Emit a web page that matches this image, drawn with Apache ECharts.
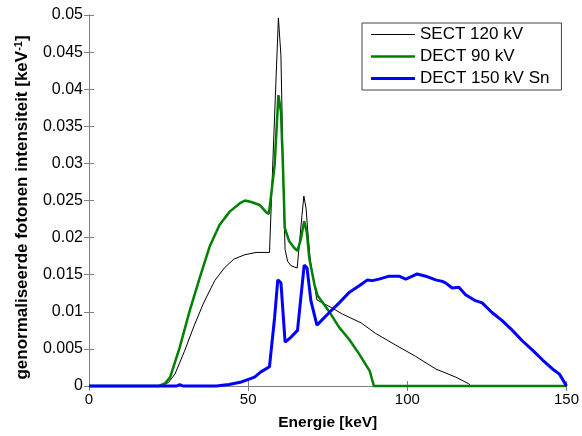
<!DOCTYPE html>
<html>
<head>
<meta charset="utf-8">
<script src="https://cdn.jsdelivr.net/npm/echarts@6/dist/echarts.min.js"></script>
<style>
  html, body { margin: 0; padding: 0; background: #fff; }
  #chart { width: 582px; height: 436px; }
</style>
</head>
<body>
<div id="chart"></div>
<script>
// Normalised photon spectra [keV^-1] versus photon energy [keV]

const seriesNames = ['SECT 120 kV', 'DECT 90 kV', 'DECT 150 kV Sn'];

const sectEnergy = [0, 23, 25, 27, 30, 33, 36, 39.5, 42.5, 45.5, 49, 52.5, 55, 56.7, 58, 59.5, 60.3, 61.2, 61.6, 62.4, 63.5, 65.4, 66.9, 67.5, 68.2, 68.7, 69.5, 71.6, 76, 79.6, 85.5, 90, 96.4, 102.6, 108.9, 115.2, 119.3, 120, 150];
const sectValue  = [0, 0, 0.0005, 0.0016, 0.0047, 0.0081, 0.0112, 0.0142, 0.0159, 0.0171, 0.0177, 0.0180, 0.0180, 0.0180, 0.0330, 0.0496, 0.0445, 0.0240, 0.0184, 0.0168, 0.0162, 0.0159, 0.0230, 0.0256, 0.0239, 0.0210, 0.0170, 0.0116, 0.0106, 0.0097, 0.0085, 0.0071, 0.0055, 0.0040, 0.0023, 0.0012, 0.0003, 0, 0];

const dect90Energy = [0, 22, 24, 25.5, 28.5, 31.6, 34.8, 37.9, 41, 44.2, 47.3, 49, 51, 53.6, 55.7, 56.5, 57.2, 58.3, 59.5, 60.3, 60.9, 61.5, 62.9, 64.5, 65.5, 66.6, 67.6, 68.4, 69.2, 70.8, 71.8, 75.5, 78.6, 81.7, 84.9, 88.2, 89.5, 150];
const dect90Value  = [0, 0, 0.0004, 0.0012, 0.0052, 0.0101, 0.0146, 0.0188, 0.0217, 0.0235, 0.0246, 0.0250, 0.0248, 0.0244, 0.0234, 0.0232, 0.0257, 0.0297, 0.0392, 0.0370, 0.0300, 0.0213, 0.0195, 0.0186, 0.0182, 0.0199, 0.0222, 0.0208, 0.0172, 0.0137, 0.0122, 0.0100, 0.0079, 0.0063, 0.0043, 0.0020, 0, 0];

const dect150Energy = [0, 27.5, 28.5, 29.5, 40, 44, 47.5, 52, 54, 56.7, 58.3, 59.3, 60.3, 61.6, 63.5, 65.5, 67.6, 68.5, 69.7, 71.6, 75.5, 78.6, 81.7, 84.9, 87.5, 89, 91.1, 94.3, 97.4, 99.5, 101.6, 103.1, 105.8, 108.9, 111, 112, 114.1, 116.2, 118.3, 121.4, 123.5, 126.6, 129.8, 133, 136.1, 139.4, 142.5, 145.6, 147.8, 150];
const dect150Value  = [0, 0, 0.0002, 0, 0, 0.0002, 0.0005, 0.0012, 0.0019, 0.0026, 0.0092, 0.0143, 0.0139, 0.0059, 0.0066, 0.0075, 0.0163, 0.0159, 0.0115, 0.0082, 0.0099, 0.0112, 0.0126, 0.0135, 0.0143, 0.0142, 0.0144, 0.0148, 0.0148, 0.0144, 0.0148, 0.0151, 0.0148, 0.0143, 0.0141, 0.0139, 0.0132, 0.0133, 0.0123, 0.0115, 0.0112, 0.0099, 0.0088, 0.0075, 0.0061, 0.0048, 0.0035, 0.0023, 0.0016, 0];

const xTicks = [0, 50, 100, 150];
const yTicks = [0, 0.005, 0.01, 0.015, 0.02, 0.025, 0.03, 0.035, 0.04, 0.045, 0.05];

const seriesColors = ['#000000', '#008000', '#0000ff'];
const seriesWidths = [1, 2.5, 3];

const pairs = (xs, ys) => xs.map((x, i) => [x, ys[i]]);

const FONT = 'Liberation Sans, Arial, sans-serif';
const AXIS_COLOR = '#808080';

const boxAxis = {
  axisLine: { show: true, lineStyle: { color: AXIS_COLOR, width: 1 } },
  axisTick: { show: true, inside: true, length: 5, lineStyle: { color: AXIS_COLOR } },
  splitLine: { show: false }
};

// plain line swatch for each legend entry, as thick as its series
const legendIcon = w => 'path://M0 0H44V' + w + 'H0Z';

const chart = echarts.init(document.getElementById('chart'), null, { renderer: 'canvas' });

chart.setOption({
  backgroundColor: '#ffffff',
  animation: false,
  grid: { left: 89, right: 14, top: 15, bottom: 47, containLabel: false },
  legend: {
    orient: 'vertical',
    left: 362,
    top: 23,
    padding: [3, 12, 3, 9],
    itemWidth: 44,
    itemHeight: 17,
    itemGap: 5,
    symbolKeepAspect: true,
    backgroundColor: '#ffffff',
    borderColor: '#444444',
    borderWidth: 1,
    borderRadius: 0,
    textStyle: { fontFamily: FONT, fontSize: 17, color: '#000' },
    data: seriesNames.map((n, i) => ({ name: n, icon: legendIcon(seriesWidths[i]) }))
  },
  xAxis: [
    Object.assign({
      type: 'value', position: 'bottom',
      min: xTicks[0], max: xTicks[xTicks.length - 1], interval: 50,
      name: 'Energie [keV]', nameLocation: 'middle', nameGap: 29,
      nameTextStyle: { fontFamily: FONT, fontWeight: 'bold', fontSize: 15.5, color: '#000' },
      axisLabel: { fontFamily: FONT, fontSize: 15, color: '#000', margin: 6 }
    }, boxAxis),
    Object.assign({
      type: 'value', position: 'top',
      min: xTicks[0], max: xTicks[xTicks.length - 1], interval: 50,
      axisLabel: { show: false }
    }, boxAxis)
  ],
  yAxis: [
    Object.assign({
      type: 'value', position: 'left',
      min: yTicks[0], max: yTicks[yTicks.length - 1], interval: 0.005,
      name: 'genormaliseerde fotonen intensiteit [keV{sup|-1}]',
      nameLocation: 'middle', nameGap: 55,
      nameTextStyle: {
        fontFamily: FONT, fontWeight: 'bold', fontSize: 17, color: '#000', lineHeight: 19,
        padding: [0, 14, 0, 0],
        rich: { sup: { fontFamily: FONT, fontWeight: 'bold', fontSize: 11, color: '#000', lineHeight: 11, verticalAlign: 'top' } }
      },
      axisLabel: {
        fontFamily: FONT, fontSize: 16, color: '#000', margin: 6,
        formatter: v => (v === 0 ? '0' : String(+v.toFixed(3)))
      }
    }, boxAxis),
    Object.assign({
      type: 'value', position: 'right',
      min: yTicks[0], max: yTicks[yTicks.length - 1], interval: 0.005,
      axisLabel: { show: false }
    }, boxAxis)
  ],
  series: [
    {
      name: seriesNames[0], type: 'line', xAxisIndex: 0, yAxisIndex: 0,
      data: pairs(sectEnergy, sectValue),
      symbol: 'none', clip: false, z: 2,
      lineStyle: { color: seriesColors[0], width: seriesWidths[0] },
      itemStyle: { color: seriesColors[0] }
    },
    {
      name: seriesNames[1], type: 'line', xAxisIndex: 0, yAxisIndex: 0,
      data: pairs(dect90Energy, dect90Value),
      symbol: 'none', clip: false, z: 3,
      lineStyle: { color: seriesColors[1], width: seriesWidths[1] },
      itemStyle: { color: seriesColors[1] }
    },
    {
      name: seriesNames[2], type: 'line', xAxisIndex: 0, yAxisIndex: 0,
      data: pairs(dect150Energy, dect150Value),
      symbol: 'none', clip: false, z: 4,
      lineStyle: { color: seriesColors[2], width: seriesWidths[2] },
      itemStyle: { color: seriesColors[2] }
    }
  ]
});
</script>
</body>
</html>
